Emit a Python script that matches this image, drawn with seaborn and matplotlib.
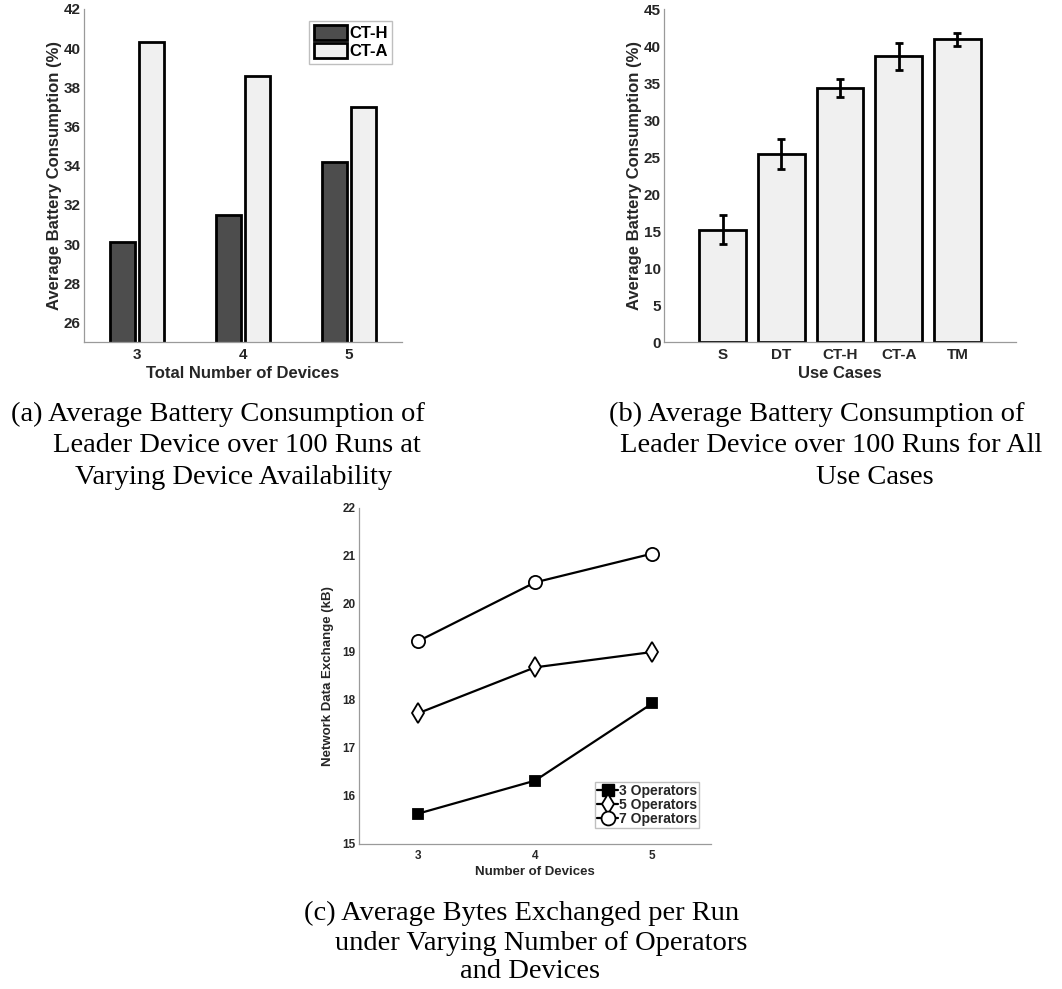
import numpy as np
import pandas as pd
import matplotlib
matplotlib.use("Agg")
import matplotlib.pyplot as plt
import seaborn as sns
from matplotlib.patches import Patch
from matplotlib.lines import Line2D

# ---------------- data ----------------
devices_a = ["3", "4", "5"]
cth_vals = [30.1, 31.5, 34.2]
cta_vals = [40.3, 38.6, 37.0]
series_a = ["CT-H", "CT-A"]

use_cases = ["S", "DT", "CT-H", "CT-A", "TM"]
use_vals = [15.2, 25.4, 34.3, 38.6, 40.9]
use_err = [2.0, 2.0, 1.25, 1.8, 0.85]

devices_c = [3, 4, 5]
ops3 = [15.63, 16.32, 17.93]
ops5 = [17.72, 18.68, 19.00]
ops7 = [19.22, 20.45, 21.05]
ops_labels = ["3 Operators", "5 Operators", "7 Operators"]

caption_a = ["(a) Average Battery Consumption of", "Leader Device over 100 Runs at",
             "Varying Device Availability"]
caption_b = ["(b) Average Battery Consumption of", "Leader Device over 100 Runs for All",
             "Use Cases"]
caption_c = ["(c) Average Bytes Exchanged per Run", "under Varying Number of Operators",
             "and Devices"]

# ---------------- style ----------------
sns.set_theme(style="white")
plt.rcParams['font.family'] = ['Liberation Sans', 'DejaVu Sans']
TXT = "#262626"
AX = "#9a9a9a"
DARK = "#4d4d4d"
LIGHT = "#f0f0f0"

W, H = 1062, 989
fig = plt.figure(figsize=(W / 100, H / 100), dpi=100)


def px_axes(l, t, r, b):
    return fig.add_axes([l / W, 1 - b / H, (r - l) / W, (b - t) / H])


def style_axes(ax, tsize, pad=2.5):
    for s in ["top", "right"]:
        ax.spines[s].set_visible(False)
    for s in ["left", "bottom"]:
        ax.spines[s].set_color(AX)
        ax.spines[s].set_linewidth(0.9)
    ax.tick_params(axis="both", direction="in", length=3, width=0.8, color=AX,
                   labelsize=tsize, labelcolor=TXT, pad=pad)
    ax.tick_params(axis="x", pad=pad + 2)
    for lab in ax.get_xticklabels() + ax.get_yticklabels():
        lab.set_fontweight("bold")


# ---------------- (a) ----------------
ax1 = px_axes(84, 9, 402, 342)
df_a = pd.DataFrame({
    "dev": devices_a * 2,
    "val": cth_vals + cta_vals,
    "series": [series_a[0]] * 3 + [series_a[1]] * 3,
})
sns.barplot(data=df_a, x="dev", y="val", hue="series", order=devices_a,
            hue_order=series_a, palette=[DARK, LIGHT], width=0.56, gap=0.15,
            edgecolor="black", linewidth=2.0, ax=ax1, legend=False)
for p, c in zip(ax1.patches, [DARK] * 3 + [LIGHT] * 3):
    p.set_facecolor(c)
ax1.set_xlim(-0.5, 2.5)
ax1.set_ylim(25, 42)
ax1.set_yticks(np.arange(26, 43, 2))
ax1.set_xlabel("Total Number of Devices", fontsize=12, fontweight="bold", color=TXT, labelpad=3)
ax1.set_ylabel("Average Battery Consumption (%)", fontsize=12, fontweight="bold", color=TXT, labelpad=1)
style_axes(ax1, 11)
handles = [Patch(facecolor=DARK, edgecolor="black", linewidth=2.0),
           Patch(facecolor=LIGHT, edgecolor="black", linewidth=2.0)]
leg = ax1.legend(handles, series_a, loc="upper right", bbox_to_anchor=(0.969, 0.964),
                 prop={"weight": "bold", "size": 12}, frameon=True, fancybox=False,
                 handlelength=2.0, handleheight=1.0, handletextpad=0.15, borderpad=0.25,
                 labelspacing=0.12, borderaxespad=0)
leg.get_frame().set_edgecolor("#b0b0b0")
leg.get_frame().set_linewidth(1.0)
for t in leg.get_texts():
    t.set_color("black")

# ---------------- (b) ----------------
ax2 = px_axes(664, 9, 1016, 342)
df_b = pd.DataFrame({"case": use_cases, "val": use_vals})
sns.barplot(data=df_b, x="case", y="val", order=use_cases, color=LIGHT, width=0.8,
            edgecolor="black", linewidth=2.0, ax=ax2, errorbar=None)
for p in ax2.patches:
    p.set_facecolor(LIGHT)
ax2.errorbar(np.arange(len(use_cases)), use_vals, yerr=use_err, fmt="none",
             ecolor="black", elinewidth=2.0, capsize=2.6, capthick=2.0, zorder=5)
ax2.set_xlim(-1, 5)
ax2.set_ylim(0, 45)
ax2.set_yticks(np.arange(0, 46, 5))
ax2.set_xlabel("Use Cases", fontsize=12, fontweight="bold", color=TXT, labelpad=3)
ax2.set_ylabel("Average Battery Consumption (%)", fontsize=12, fontweight="bold", color=TXT, labelpad=1)
style_axes(ax2, 11)

# ---------------- (c) ----------------
ax3 = px_axes(359, 508, 711, 844)
markers = ["s", "d", "o"]
msizes = [7.5, 10, 9.5]
fills = ["black", "white", "white"]
for vals, lab, mk, ms, fc in zip([ops3, ops5, ops7], ops_labels, markers, msizes, fills):
    sns.lineplot(x=devices_c, y=vals, ax=ax3, color="black", linewidth=1.6,
                 marker=mk, markersize=ms, markerfacecolor=fc, markeredgecolor="black",
                 markeredgewidth=1.3, label=lab, legend=False)
ax3.set_xlim(2.5, 5.5)
ax3.set_ylim(15, 22)
ax3.set_xticks(devices_c)
ax3.set_yticks(np.arange(15, 23, 1))
ax3.set_xlabel("Number of Devices", fontsize=9.5, fontweight="bold", color=TXT, labelpad=3)
ax3.set_ylabel("Network Data Exchange (kB)", fontsize=9.5, fontweight="bold", color=TXT, labelpad=6)
style_axes(ax3, 8.5, pad=2.5)
h3 = [Line2D([0], [0], color="black", lw=1.6, marker="s", ms=8, mfc="black", mec="black"),
      Line2D([0], [0], color="black", lw=1.6, marker="d", ms=10.5, mfc="white", mec="black", mew=1.3),
      Line2D([0], [0], color="black", lw=1.6, marker="o", ms=10, mfc="white", mec="black", mew=1.3)]
leg3 = ax3.legend(h3, ops_labels, loc="lower right", bbox_to_anchor=(0.966, 0.048),
                  prop={"weight": "bold", "size": 10}, frameon=True, fancybox=False,
                  handlelength=1.5, handletextpad=0.05, borderpad=0.15, labelspacing=0.0,
                  borderaxespad=0)
leg3.get_frame().set_edgecolor("#b0b0b0")
leg3.get_frame().set_linewidth(1.0)

# ---------------- captions ----------------
def caption(lines, xs, ys):
    for s, x, y in zip(lines, xs, ys):
        fig.text(x / W, 1 - y / H, s, ha="center", va="center", fontsize=20.5,
                 family="Liberation Serif", color="black")

caption(caption_a, [218, 237, 234], [414, 446, 477])
caption(caption_b, [817, 831, 875], [414, 446, 477])
caption(caption_c, [522, 541, 530], [913, 943, 972])

fig.savefig("out.png", dpi=100)
